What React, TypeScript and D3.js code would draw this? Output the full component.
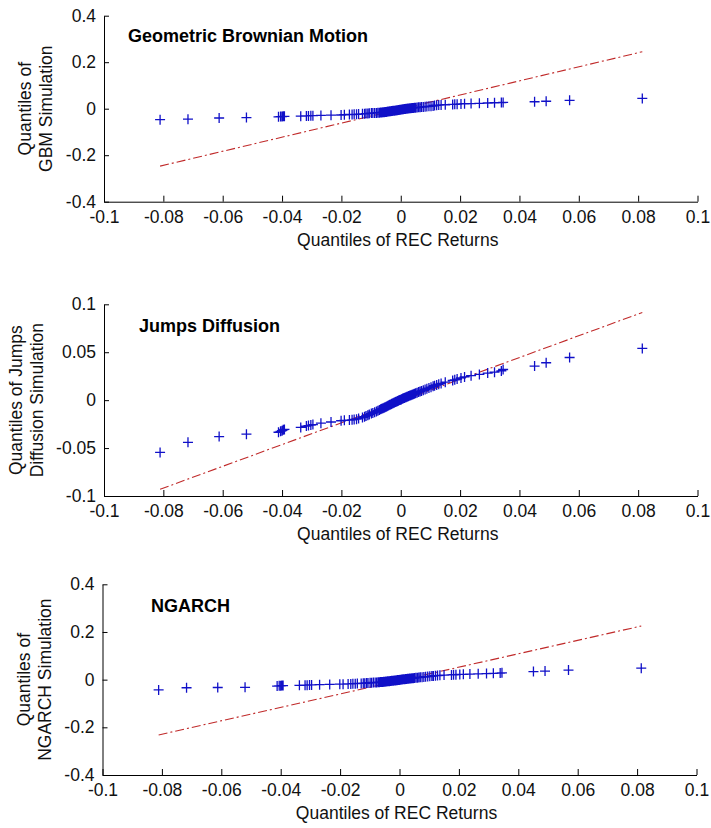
import React, { useEffect, useRef } from 'react';
import * as d3 from 'd3';

// sorted quantiles of the REC returns (shared x of all three qq-plots)
const recReturns = [
    -0.0811, -0.0717, -0.0612, -0.0520,
    -0.0412, -0.0405, -0.0400, -0.0396, -0.0392,
    -0.0337, -0.0318, -0.0311, -0.0303, -0.0296,
    -0.0269, -0.0235, -0.0201, -0.0190,
    -0.0173, -0.0164, -0.0157, -0.0149, -0.0142,
    -0.0129, -0.0122, -0.0117, -0.0111, -0.0106,
    -0.0099, -0.0094, -0.0088, -0.0082, -0.0077, -0.0072, -0.0068, -0.0064,
    -0.0060, -0.0056, -0.0053, -0.0049, -0.0046, -0.0043, -0.0040, -0.0037,
    -0.0034, -0.0031, -0.0029, -0.0026, -0.0023, -0.0021, -0.0018, -0.0016,
    -0.0013, -0.0011, -0.0008, -0.0006, -0.0003, -0.0001, 0.0002, 0.0004,
    0.0007, 0.0009, 0.0012, 0.0015, 0.0018, 0.0021, 0.0024, 0.0027,
    0.0031, 0.0034, 0.0038, 0.0042, 0.0046, 0.0050, 0.0055, 0.0060,
    0.0065, 0.0070, 0.0076, 0.0082, 0.0088, 0.0095, 0.0102, 0.0109,
    0.0114, 0.0121, 0.0128, 0.0136, 0.0150, 0.0175, 0.0182, 0.0190, 0.0203, 0.0215,
    0.0237, 0.0265, 0.0293, 0.0316, 0.0339, 0.0345, 0.0451, 0.0490, 0.0569, 0.0814
];

const gbmQuantiles = [
    -0.047, -0.045, -0.040, -0.038,
    -0.035, -0.034, -0.034, -0.033, -0.033,
    -0.032, -0.031, -0.031, -0.030, -0.030,
    -0.029, -0.028, -0.027, -0.026,
    -0.025, -0.025, -0.024, -0.024, -0.023,
    -0.022, -0.022, -0.021, -0.021, -0.020,
    -0.019, -0.019, -0.018, -0.018, -0.017, -0.017, -0.016, -0.016,
    -0.0152, -0.0148, -0.0141, -0.0137, -0.0131, -0.0124, -0.0121, -0.0115,
    -0.0109, -0.0104, -0.0099, -0.0093, -0.0088, -0.0084, -0.0077, -0.0073,
    -0.0068, -0.0062, -0.0058, -0.0053, -0.0047, -0.0043, -0.0037, -0.0032,
    -0.0027, -0.0022, -0.0016, -0.0011, -0.0005, 0.0000, 0.0006, 0.0011,
    0.0017, 0.0022, 0.0028, 0.0034, 0.0039, 0.0045, 0.0051, 0.0058,
    0.0064, 0.0071, 0.0078, 0.0085, 0.0093, 0.0101, 0.0110, 0.0118,
    0.0140, 0.0148, 0.0155, 0.0162, 0.0170, 0.0182, 0.0188, 0.0195, 0.0205, 0.0212,
    0.0222, 0.0232, 0.0245, 0.0255, 0.0265, 0.0272, 0.0300, 0.0320, 0.0360, 0.0440
];

const jumpQuantiles = [
    -0.0545, -0.0440, -0.0380, -0.0355,
    -0.0335, -0.0325, -0.0318, -0.0310, -0.0305,
    -0.0285, -0.0270, -0.0265, -0.0260, -0.0255,
    -0.0240, -0.0228, -0.0215, -0.0210,
    -0.0208, -0.0205, -0.0202, -0.0198, -0.0192,
    -0.0180, -0.0172, -0.0165, -0.0158, -0.0150,
    -0.0140, -0.0133, -0.0125, -0.0118, -0.0110, -0.0102, -0.0096, -0.0090,
    -0.0085, -0.0080, -0.0074, -0.0069, -0.0063, -0.0058, -0.0054, -0.0049,
    -0.0045, -0.0040, -0.0036, -0.0032, -0.0028, -0.0024, -0.0020, -0.0017,
    -0.0013, -0.0009, -0.0006, -0.0002, 0.0001, 0.0005, 0.0008, 0.0012,
    0.0016, 0.0019, 0.0023, 0.0027, 0.0031, 0.0035, 0.0039, 0.0043,
    0.0048, 0.0052, 0.0057, 0.0062, 0.0067, 0.0072, 0.0078, 0.0084,
    0.0090, 0.0096, 0.0103, 0.0110, 0.0118, 0.0126, 0.0135, 0.0144,
    0.0150, 0.0158, 0.0166, 0.0175, 0.0188, 0.0205, 0.0212, 0.0220, 0.0232, 0.0242,
    0.0255, 0.0268, 0.0282, 0.0292, 0.0305, 0.0320, 0.0355, 0.0390, 0.0445, 0.0540
];

const ngarchQuantiles = [
    -0.043, -0.034, -0.033, -0.032,
    -0.027, -0.026, -0.026, -0.025, -0.025,
    -0.024, -0.023, -0.023, -0.022, -0.022,
    -0.021, -0.020, -0.019, -0.019,
    -0.018, -0.018, -0.017, -0.017, -0.016,
    -0.016, -0.015, -0.015, -0.014, -0.014,
    -0.013, -0.013, -0.012, -0.012, -0.0115, -0.011, -0.0105, -0.010,
    -0.0098, -0.0094, -0.0089, -0.0085, -0.0081, -0.0076, -0.0072, -0.0068,
    -0.0064, -0.0060, -0.0055, -0.0051, -0.0047, -0.0043, -0.0039, -0.0035,
    -0.0031, -0.0027, -0.0022, -0.0018, -0.0014, -0.0010, -0.0005, -0.0001,
    0.0003, 0.0008, 0.0012, 0.0017, 0.0021, 0.0026, 0.0031, 0.0036,
    0.0041, 0.0046, 0.0052, 0.0057, 0.0063, 0.0069, 0.0075, 0.0082,
    0.0089, 0.0096, 0.0104, 0.0112, 0.0121, 0.0130, 0.0140, 0.0150,
    0.0158, 0.0165, 0.0172, 0.0180, 0.0190, 0.0200, 0.0205, 0.0210, 0.0218, 0.0225,
    0.0235, 0.0245, 0.0255, 0.0265, 0.0275, 0.0285, 0.0340, 0.0360, 0.0400, 0.0480
];

// red dash-dot reference lines, from min to max of REC returns
const refLineX = [-0.0811, 0.0814];
const gbmRefLine = [-0.247, 0.245];
const jumpRefLine = [-0.093, 0.0915];
const ngarchRefLine = [-0.232, 0.225];

const xTicks = [-0.1, -0.08, -0.06, -0.04, -0.02, 0, 0.02, 0.04, 0.06, 0.08, 0.1];
const xTickLabels = ['-0.1', '-0.08', '-0.06', '-0.04', '-0.02', '0', '0.02', '0.04', '0.06', '0.08', '0.1'];
const wideYTicks = [-0.4, -0.2, 0, 0.2, 0.4];
const wideYTickLabels = ['-0.4', '-0.2', '0', '0.2', '0.4'];
const narrowYTicks = [-0.1, -0.05, 0, 0.05, 0.1];
const narrowYTickLabels = ['-0.1', '-0.05', '0', '0.05', '0.1'];

const titles = ['Geometric Brownian Motion', 'Jumps Diffusion', 'NGARCH'];
const yLabels = [['Quantiles of', 'GBM Simulation'], ['Quantiles of Jumps', 'Diffusion Simulation'], ['Quantiles of', 'NGARCH Simulation']];
const xLabel = 'Quantiles of REC Returns';

const FONT = '"Liberation Sans", Arial, Helvetica, sans-serif';
const FS = 17.5;

const panels = [
    { title: titles[0], yLabel: yLabels[0], y: gbmQuantiles, ref: gbmRefLine, yTicks: wideYTicks, yTickLabels: wideYTickLabels,
      box: { left: 104, right: 697.5, top: 15.7, bottom: 201.7 }, titleX: 128, titleY: 41.5, labelX: 52 },
    { title: titles[1], yLabel: yLabels[1], y: jumpQuantiles, ref: jumpRefLine, yTicks: narrowYTicks, yTickLabels: narrowYTickLabels,
      box: { left: 104, right: 697.5, top: 304.3, bottom: 496 }, titleX: 139, titleY: 331.5, labelX: 43 },
    { title: titles[2], yLabel: yLabels[2], y: ngarchQuantiles, ref: ngarchRefLine, yTicks: wideYTicks, yTickLabels: wideYTickLabels,
      box: { left: 102.5, right: 696.5, top: 584.3, bottom: 775 }, titleX: 151, titleY: 612, labelX: 51 }
];

export default function App() {
    const ref = useRef<SVGSVGElement>(null);

    useEffect(() => {
        const svg = d3.select(ref.current);
        svg.selectAll('*').remove();

        panels.forEach(p => {
            const b = p.box;
            const x = d3.scaleLinear().domain([-0.1, 0.1]).range([b.left, b.right]);
            const y = d3.scaleLinear().domain([p.yTicks[0], p.yTicks[p.yTicks.length - 1]]).range([b.bottom, b.top]);
            const g = svg.append('g');

            // reference line
            g.append('path')
                .attr('d', d3.line<number>().x((d, i) => x(refLineX[i])).y(d => y(d))(p.ref))
                .attr('fill', 'none')
                .attr('stroke', '#c02a2a')
                .attr('stroke-width', 1.1)
                .attr('stroke-dasharray', '9,3,2,3');

            // plus markers
            const pts = recReturns.map((r, i) => [x(r), y(p.y[i])]);
            g.append('path')
                .attr('d', pts.map(([px, py]) => `M${px - 5},${py}h10M${px},${py - 5}v10`).join(''))
                .attr('fill', 'none')
                .attr('stroke', '#1010c8')
                .attr('stroke-width', 1.3);

            // axes, ticks inward
            g.append('g')
                .attr('transform', `translate(0,${b.bottom})`)
                .call(d3.axisBottom(x).tickValues(xTicks).tickFormat((d, i) => xTickLabels[i])
                    .tickSizeInner(-6).tickSizeOuter(0).tickPadding(9))
                .call(a => a.selectAll('text').attr('font-size', FS).attr('font-family', FONT).attr('fill', '#111'));

            g.append('g')
                .attr('transform', `translate(${b.left},0)`)
                .call(d3.axisLeft(y).tickValues(p.yTicks).tickFormat((d, i) => p.yTickLabels[i])
                    .tickSizeInner(-5).tickSizeOuter(0).tickPadding(8))
                .call(a => a.selectAll('text').attr('font-size', FS).attr('font-family', FONT).attr('fill', '#111'));

            g.append('text')
                .attr('x', p.titleX)
                .attr('y', p.titleY)
                .attr('font-family', FONT)
                .attr('font-size', 18)
                .attr('font-weight', 'bold')
                .text(p.title);

            g.append('text')
                .attr('x', (b.left + b.right) / 2 - 3)
                .attr('y', b.bottom + 44)
                .attr('text-anchor', 'middle')
                .attr('font-family', FONT)
                .attr('font-size', FS)
                .attr('fill', '#111')
                .text(xLabel);

            const cy = (b.top + b.bottom) / 2;
            p.yLabel.forEach((line, i) => {
                g.append('text')
                    .attr('transform', `translate(${p.labelX - 21 * (1 - i)},${cy}) rotate(-90)`)
                    .attr('text-anchor', 'middle')
                    .attr('font-family', FONT)
                    .attr('font-size', FS)
                    .attr('fill', '#111')
                    .text(line);
            });
        });
    }, []);

    return (
        <svg ref={ref} width={711} height={828}
            style={{ position: 'absolute', left: 0, top: 0, background: '#fff', display: 'block' }} />
    );
}
